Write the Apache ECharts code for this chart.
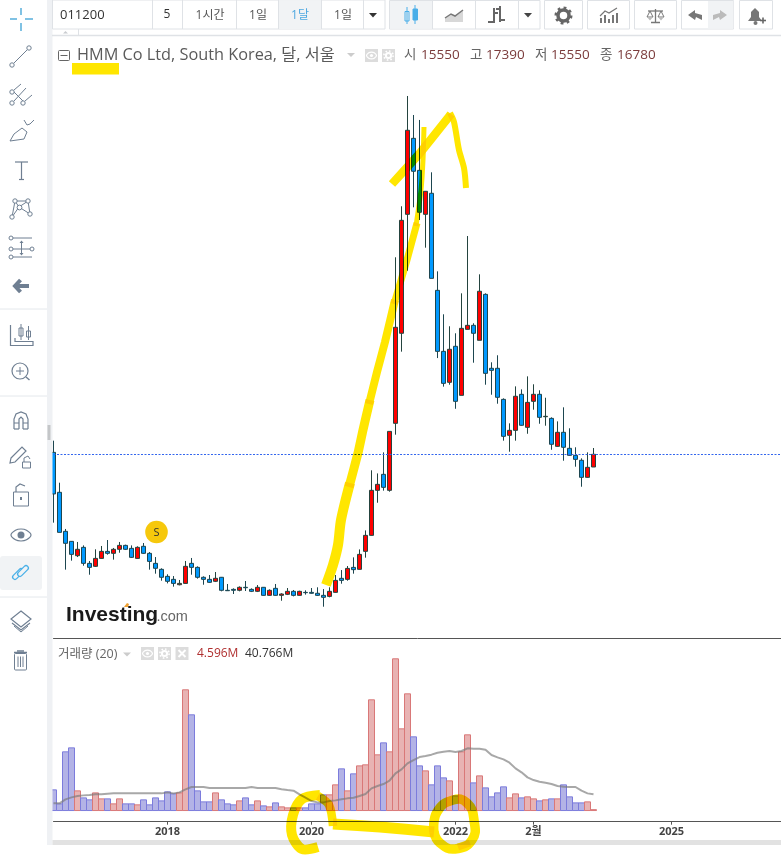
<!DOCTYPE html>
<html><head><meta charset="utf-8">
<style>html,body{margin:0;padding:0;background:#fff}#c{width:781px;height:859px}</style>
<script src="https://cdn.jsdelivr.net/npm/echarts@6/dist/echarts.min.js"></script>
</head><body><div id="c"></div>
<script>
const startYear = 2016, startMonth = 6, monthCount = 123;
const tickLabels = {'2018-01':'2018','2020-01':'2020','2022-01':'2022','2023-02':'2월','2025-01':'2025'};
const opens = [16970,13100,9320,8350,6960,7770,6220,5930,6700,7380,
7190,7580,7960,7670,6700,7870,7190,6220,5640,4960,
4670,4150,4280,6220,5830,4870,4670,4480,4870,3610,
3700,3610,3900,3700,3510,3900,3120,3800,3120,3220,
3510,3120,3410,3410,3320,3120,3020,3410,4770,4670,
5830,5640,7380,8930,13290,14840,13290,19780,28500,40020,
47380,44280,40020,42060,32660,26750,23750,27240,22490,28880,
29270,27820,32270,25110,25110,22100,18620,19100,22590,19390,
21910,22590,20420,20260,17550,18910,17360,16680,16200,14550,15550];
const closes = [12940,9220,8160,7090,7580,6220,5830,6700,7380,7190,
7580,7960,7580,6800,7770,7190,6410,5740,4870,4480,
4280,4280,5930,5830,4870,4670,4380,4770,3610,3570,
3610,3900,3860,3510,3900,3120,3610,3120,3250,3510,
3120,3510,3380,3320,3120,2930,3510,4570,4570,5730,
5610,7090,8930,13290,13870,13580,19000,29080,39440,48160,
44190,40220,42250,33820,26750,23650,26950,21910,28980,29270,
28500,32570,24620,24910,22300,18520,19100,22400,19590,21810,
22590,20360,20460,17750,18910,17460,16680,16290,14550,15520,16780];
const lows = [10160,9220,5610,6480,6830,5990,5120,5870,6670,7060,
6580,7250,7510,6740,6670,7130,5610,5220,4540,4280,
3960,4090,4250,5120,4740,4150,4320,4410,3510,3570,
3250,3510,3540,3440,3440,3090,3090,3090,2600,3150,
3020,3090,3190,3280,3060,2020,2930,3380,4250,4540,
5220,5610,6770,8900,12090,13260,13160,18680,26720,34560,
40700,39470,36790,33820,26100,23330,23520,21190,22490,28880,
25650,27820,23520,22550,21680,18100,17030,18100,19550,18770,
21100,19740,19550,17220,17510,16160,16640,15580,13640,14510,15550];
const highs = [18100,14030,9550,8380,8290,7960,6450,7580,7900,8480,
7710,8290,8030,7960,7870,8190,7320,6830,5740,5160,
4990,4610,6450,6740,5930,4960,5090,5380,4900,4220,
3800,3990,4510,3800,4120,3930,3700,4220,3320,3830,
3640,3570,3610,3830,3900,3730,3900,5090,5570,5960,
6800,7570,9410,15230,14930,16970,19000,35860,40800,51480,
49640,49160,42280,44090,34500,30340,29180,28500,32370,37920,
29470,34210,32370,25690,26370,22200,19780,23360,23070,24330,
23560,22980,22260,20360,19970,21330,19300,17460,16390,16970,17390];
const volumes = [52.9,18.7,145.6,155.3,50.4,33.3,28.5,45.5,30.9,30.9,
18.7,30.9,18.7,18.7,16.3,28.5,16.3,33.3,26.0,48.0,
43.1,45.5,296.9,235.9,50.4,23.6,23.6,45.5,28.5,18.7,
16.3,26.0,33.3,16.3,26.0,13.8,11.4,21.1,11.4,8.9,
8.9,8.9,8.9,18.7,18.7,40.7,40.7,65.1,104.1,50.4,
91.9,111.4,113.9,272.5,138.3,167.5,145.6,372.5,201.7,287.1,
182.2,111.4,99.2,65.1,111.4,82.1,74.8,38.2,145.6,187.1,
69.9,87.0,57.7,35.8,45.5,60.2,33.3,43.1,33.3,35.8,
30.9,26.0,28.5,30.9,30.9,65.1,35.8,21.1,21.1,23.6,4.596];
const volumeMA = [18.7,18.7,28.5,33.3,36.6,38.2,39,40.7,40.7,42.3,
43.1,43.1,43.1,43.1,43.1,43.1,43.1,43.1,43.1,45.5,
43.1,45.5,52.9,58.6,58.6,58.6,56,56,56,56,
56,56,56,58.6,56,56,56,56,52.9,51.2,
49.6,40.7,32.5,24.4,21.1,21.1,24.4,26,28.5,30.9,
32.5,36.6,41.5,55.3,61,65.9,74,91.9,101.7,116.3,
124.4,131.7,134.2,137.5,142.3,144.7,146.4,143.9,146.4,152.9,
152.1,152.1,149.6,136.6,130.9,126,117.9,104.1,94.4,82.1,
75.6,71.6,69.2,65.9,61,59.4,58.6,58.6,49.6,43.1,40.766];
const lastPrice = 16780;

const categories = [];
for (let i = 0; i < monthCount; i++) {
  const m = startMonth - 1 + i;
  categories.push((startYear + Math.floor(m / 12)) + '-' + String(m % 12 + 1).padStart(2, '0'));
}
const candleData = opens.map((o, i) => [o, closes[i], lows[i], highs[i]]);
const volumeData = volumes.map((v, i) => {
  const up = closes[i] >= opens[i];
  return {value: v, itemStyle: {color: up ? '#e8b3b3' : '#b3b3e6', borderColor: up ? '#d97878' : '#7c7cdc'}};
});

// page furniture drawn as graphic elements
const SLATE = '#6f7f92', KR = "'Open Sans','Noto Sans CJK KR',sans-serif", G = [];
const ln = (pts, color, w, extra) => G.push({type:'polyline', z:50, shape:Object.assign({points:pts}, extra&&extra.shape), style:Object.assign({stroke:color, fill:null, lineWidth:w}, extra&&extra.style)});
const cir = (x, y, r, stroke, fill, w) => G.push({type:'circle', z:50, shape:{cx:x, cy:y, r}, style:{stroke:stroke||null, fill:fill||null, lineWidth:w||1}});
const box = (x, y, w, h, fill, stroke, r) => G.push({type:'rect', z:49, shape:{x, y, width:w, height:h, r:r||0}, style:{fill:fill||null, stroke:stroke||null, lineWidth:1}});
const poly = (pts, fill, stroke, w, smooth) => G.push({type:'polygon', z:50, shape:{points:pts, smooth:smooth||0}, style:{fill:fill||null, stroke:stroke||null, lineWidth:w||1}});
const txt = (s, x, y, font, fill, align) => G.push({type:'text', z:51, style:{text:s, x, y, font, fill, align:align||'left', verticalAlign:'middle'}});
const eye = (cx, cy, rx, ry, stroke, w) => poly([[cx-rx,cy],[cx-rx*.55,cy-ry*.8],[cx,cy-ry],[cx+rx*.55,cy-ry*.8],[cx+rx,cy],[cx+rx*.55,cy+ry*.8],[cx,cy+ry],[cx-rx*.55,cy+ry*.8]], null, stroke, w, 0.4);

// side column
box(47, 0, 5.5, 845, '#eff1f4');
box(47.5, 425, 3, 15, '#c4c6c8');
// toolbar frame
box(52.5, 0, 332.5, 29, '#fff', '#dfe2e6');
box(278, 0.5, 43, 28.5, '#f1f3f5');
[152,182,236,278,321,363].forEach(x => ln([[x+.5,0],[x+.5,29]], '#dfe2e6', 1));
box(389.5, 0.5, 150.5, 28.5, '#fff', '#dfe2e6');
box(390, 1, 42.5, 27.5, '#f1f3f5');
[432.5,475.5,518.5].forEach(x => ln([[x,0],[x,29]], '#dfe2e6', 1));
box(544.5, 0.5, 38, 28.5, '#fff', '#dfe2e6');
box(587.5, 0.5, 42, 28.5, '#fff', '#dfe2e6');
box(634.5, 0.5, 42, 28.5, '#fff', '#dfe2e6');
box(681.5, 0.5, 52, 28.5, '#fff', '#dfe2e6');
box(708, 1, 25.5, 27.5, '#f1f3f5');
box(739.5, 0.5, 33, 28.5, '#fff', '#dfe2e6');
ln([[52,35.5],[781,35.5]], '#dfe2e6', 1.5);
ln([[78.5,29],[78.5,35]], '#dfe2e6', 1);
poly([[63,33.5],[68,33.5],[65.5,31]], '#c9ccd0');
txt('011200', 60, 15, "500 13px 'Open Sans',sans-serif", '#333');
txt('5', 167, 15, "12px 'Open Sans',sans-serif", '#333', 'center');
txt('1시간', 210, 15.5, "12px "+KR, '#555', 'center');
txt('1일', 258, 15.5, "12px "+KR, '#555', 'center');
txt('1달', 300, 15.5, "12px "+KR, '#4fa8e0', 'center');
txt('1일', 343, 15.5, "12px "+KR, '#555', 'center');
poly([[369,13],[377,13],[373,17.5]], '#333');
// chart-type icons
ln([[407,7],[407,24]], '#4aaee8', 1);
box(405, 11.5, 4, 9.5, '#f1f3f5', '#4aaee8');
ln([[415,5],[415,24]], '#4aaee8', 1);
box(413, 9, 4.5, 11, '#4aaee8', '#4aaee8');
poly([[445,22],[445,18],[451,14],[455,16],[463,10],[463,22]], '#d8d8d8');
ln([[445,18],[451,14],[455,16],[463,10]], '#777', 1.5);
ln([[494,8],[494,23]], '#666', 2);ln([[488,22],[494,22]], '#666', 2);ln([[494,13],[498,13]], '#666', 2);
ln([[500,6],[500,22]], '#666', 2);ln([[500,20],[505,20]], '#666', 2);ln([[496,9],[500,9]], '#666', 2);
poly([[524,13],[532,13],[528,17.5]], '#444');
cir(563.5, 15.5, 5.5, '#666', null, 3.5);
G.push({type:'circle', z:50, shape:{cx:563.5, cy:15.5, r:7.8}, style:{stroke:'#666', fill:null, lineWidth:2.4, lineDash:[2.8,3.3]}});
[601,605,609,613,617].forEach((x,i)=>ln([[x,23],[x,[18,15,19,15,13][i]]], '#777', 2));
ln([[600,16],[605,11],[609,13],[617,8]], '#777', 1.2);
ln([[655.5,9],[655.5,22]], '#777', 1.3);ln([[648,11],[663,11]], '#777', 1.3);ln([[651,22.5],[660,22.5]], '#777', 1.5);
poly([[647,17],[653,17],[650,11]], null, '#777', 1);poly([[658,17],[664,17],[661,11]], null, '#777', 1);
poly([[647,17],[653,17],[650,20.5]], '#bbb');poly([[658,17],[664,17],[661,20.5]], '#bbb');
poly([[688,15],[695,10],[695,13],[702,15],[702,20],[696,17],[695,20]], '#777');
poly([[727,15],[720,10],[720,13],[713,15],[713,20],[719,17],[720,20]], '#bbb');
poly([[748,21],[751,17],[751,12],[755,8],[759,12],[759,17],[762,21]], '#777');
cir(755.5, 23, 2, null, '#777');
ln([[760,20.5],[766,20.5]], '#666', 1.6);ln([[763,17.5],[763,23.5]], '#666', 1.6);

// left tools
ln([[10,19],[17,19]], '#4aa8d8', 1.4);ln([[25,19],[33,19]], '#4aa8d8', 1.4);
ln([[21,8],[21,15]], '#4aa8d8', 1.4);ln([[21,23],[21,31]], '#4aa8d8', 1.4);
ln([[13.5,63.5],[27.5,49.5]], SLATE, 1);cir(12,65,2.2,SLATE,'#fff');cir(29,48,2.2,SLATE,'#fff');
ln([[14,90],[21,84]],SLATE,1);ln([[14,92],[23,101]],SLATE,1);ln([[14,101],[26,88]],SLATE,1);ln([[25,101],[32,95]],SLATE,1);
cir(12,92,2.2,SLATE,'#fff');cir(12,103,2.2,SLATE,'#fff');cir(23,103,2.2,SLATE,'#fff');
poly([[10,141],[14,134],[22,128],[27,132],[24,139]],null,SLATE,1);
ln([[24,120],[27,125],[30,124],[34,120]],SLATE,1);
ln([[15,162],[28,162]],SLATE,1.2);ln([[21.5,162],[21.5,179]],SLATE,1.2);ln([[19,179.5],[24,179.5]],SLATE,1.2);
[[15,201,12,217],[15,201,19,207],[28,201,19,207],[28,201,30,214],[19,207,30,214],[19,207,12,217],[15,201,28,201]].forEach(a=>ln([[a[0],a[1]],[a[2],a[3]]],SLATE,1));
cir(15,201,2.2,SLATE,'#fff');cir(28,201,2.2,SLATE,'#fff');cir(19.5,207.5,2.4,SLATE,'#fff');cir(12,217,2.2,SLATE,'#fff');cir(30,214,2.2,SLATE,'#fff');
ln([[13,238],[32,238]],SLATE,1);ln([[13,249],[30,249]],SLATE,1);ln([[13,257],[32,257]],SLATE,1);ln([[21.5,241],[21.5,255]],SLATE,1);
poly([[19.5,243],[23.5,243],[21.5,240.5]],SLATE);poly([[19.5,253],[23.5,253],[21.5,255.5]],SLATE);
[[11,238],[11,249],[32,249],[11,257]].forEach(p=>cir(p[0],p[1],2,SLATE,'#fff'));
ln([[29,286],[16,286]],SLATE,4);ln([[20.5,280],[15,286],[20.5,292]],SLATE,4);
[309,396,597].forEach(y=>ln([[0,y],[47,y]],'#e4e8ec',1));
ln([[10.5,325],[10.5,345.5],[33,345.5],[33,341.5],[15,341.5],[15,338]],SLATE,1.2);
ln([[21,324],[21,340]],SLATE,1);box(19,328,4,8,'#fff',SLATE);ln([[28.5,326],[28.5,340]],SLATE,1);box(26.5,331,4,6,'#fff',SLATE);
cir(20,371,8,SLATE,null,1.2);ln([[16,371],[24,371]],SLATE,1);ln([[20,367],[20,375]],SLATE,1);ln([[26,377],[29.5,380]],SLATE,1.4);
ln([[14,429],[14,419],[16,414],[21,412],[26,414],[28,419],[28,429]],SLATE,1.2);ln([[19,429],[19,419],[21,417],[23,419],[23,429]],SLATE,1.2);
ln([[14,423],[19,423]],SLATE,1);ln([[23,423],[28,423]],SLATE,1);ln([[14,429],[19,429]],SLATE,1.2);ln([[23,429],[28,429]],SLATE,1.2);
poly([[11,458],[22,447],[26,451],[15,462],[10,463]],null,SLATE,1.2);
box(22.5,462,8,6,'#fff',SLATE);ln([[24,462],[24,458],[28,456],[30,459]],SLATE,1);
box(13.5,492,15,14,'#fff',SLATE);ln([[16,492],[16,487],[20,484],[25,486]],SLATE,1.2);ln([[21,497],[21,500]],SLATE,2);
eye(21,535,10,6,SLATE,1.2);cir(21,535,3.5,null,SLATE);
box(0,556,42,34,'#f1f3f5',null,3);
const link=(x1,y1,x2,y2)=>{ln([[x1,y1],[x2,y2]],'#4ab0e8',6,{style:{lineCap:'round'}});ln([[x1,y1],[x2,y2]],'#f1f3f5',3.4,{style:{lineCap:'round'}});};
link(15,577,21,571);link(20,574,26,568);
poly([[21,611],[31,619],[21,627],[11,619]],null,SLATE,1.2);
ln([[12,623],[21,630],[30,623]],SLATE,1.1);ln([[14,626],[21,632],[28,626]],SLATE,1);
ln([[14,652.5],[27,652.5]],SLATE,1.5);ln([[17,651],[24,651]],SLATE,1.5);box(14.5,653.5,12,16.5,'#fff',SLATE,1);
[18,20.5,23].forEach(x=>ln([[x,656.5],[x,667]],SLATE,1));

// legend row
box(58.5,50.5,11,10,'#fff','#666',1);ln([[60.5,55.5],[67.5,55.5]],'#666',1);
txt('HMM Co Ltd, South Korea, 달, 서울', 77, 55, "16.3px "+KR, '#5a5a5a');
poly([[347,53],[355,53],[351,57]],'#ccc');
const squareIcon = (x,y,s,kind) => { box(x,y,s,s,'#dcdcdc');
  if(kind==='eye'){eye(x+s/2,y+s/2,5,3.4,'#fff',1.2);cir(x+s/2,y+s/2,1.6,null,'#fff');}
  if(kind==='gear'){cir(x+s/2,y+s/2,2.6,'#fff',null,2);G.push({type:'circle',z:50,shape:{cx:x+s/2,cy:y+s/2,r:4.6},style:{stroke:'#fff',fill:null,lineWidth:1.6,lineDash:[1.6,2]}});}
  if(kind==='x'){ln([[x+3,y+3],[x+s-3,y+s-3]],'#fff',2);ln([[x+s-3,y+3],[x+3,y+s-3]],'#fff',2);} };
squareIcon(365,49,13,'eye');squareIcon(382,49,13,'gear');
const OF = "13.5px "+KR;
txt('시',404,55,OF,'#666');txt('15550',421,55,OF,'#7b3b3b');
txt('고',470,55,OF,'#666');txt('17390',486,55,OF,'#7b3b3b');
txt('저',535,55,OF,'#666');txt('15550',551,55,OF,'#7b3b3b');
txt('종',600,55,OF,'#666');txt('16780',617,55,OF,'#7b3b3b');

// split marker and watermark
cir(156.5,532,11.3,null,'#f6c80c');
txt('S',156.5,532.5,"11px 'Open Sans',sans-serif",'#333','center');
txt('Investing',66,615,"bold 21px 'Liberation Sans',sans-serif",'#1a1a1a');
txt('.com',156.5,616.5,"14.5px 'Liberation Sans',sans-serif",'#666');
poly([[124,607],[127,603],[129,604],[128,607]],'#f0a030');

// volume legend
txt('거래량 (20)',58,654,"12.5px "+KR,'#666');
poly([[123,652.5],[131,652.5],[127,656.5]],'#ccc');
squareIcon(141,647,13,'eye');squareIcon(158,647,13,'gear');squareIcon(175.5,647,13,'x');
txt('4.596M',197,654,"12px "+KR,'#b03030');
txt('40.766M',245,654,"12px "+KR,'#333');
// scroll strip
box(52.5,840,728.5,5,'#e2e2e2');

// highlighter strokes
const hl = (pts,w,smooth) => G.push({type:'polyline',z:90,shape:{points:pts,smooth:smooth==null?0.3:smooth},style:{stroke:'#ffe600',fill:null,lineWidth:w,lineCap:'butt',lineJoin:'round',blend:'multiply'}});
G.push({type:'rect',z:90,shape:{x:72,y:63,width:47,height:11.5},style:{fill:'#ffe600',blend:'multiply'}});
hl([[326,585],[333,565],[338,545],[341,520],[350,483]],10);
hl([[349,487],[358,453],[363,430],[370,400]],9,0.15);
hl([[369,404],[377,372],[385,342],[395,300]],8,0.1);
hl([[394,304],[407,260],[417,223]],7,0.1);
hl([[416,226],[421,190],[423,160],[424,127]],5,0.2);
hl([[392,184],[420,153],[448,118],[451,114]],8.5,0.1);
hl([[450,113],[454,122],[459,150],[464,168],[466,188]],6);
hl([[320,795],[302,799],[293,815],[292,835],[302,849],[318,847]],10);
hl([[318,796],[329,805],[333,826]],8.5);
hl([[333,824],[380,827],[434,832]],11,0.2);
hl([[434,832],[437,812],[453,800],[467,803],[474,820],[472,840],[455,849],[440,843],[434,832]],9.5,0.5);
hl([[470,843],[458,847]],7,0);

const chart = echarts.init(document.getElementById('c'), null, {renderer:'canvas'});
chart.setOption({
  animation:false,
  backgroundColor:'#fff',
  graphic:{elements:G},
  grid:[{left:53.5,width:732,top:39,height:598.9,outerBoundsMode:'none'},{left:53.5,width:732,top:638,height:183.7,outerBoundsMode:'none'}],
  xAxis:[
    {type:'category',gridIndex:0,data:categories,boundaryGap:false,axisLine:{onZero:false,lineStyle:{color:'#555',width:1}},axisTick:{show:false},axisLabel:{show:false},splitLine:{show:false}},
    {type:'category',gridIndex:1,data:categories,boundaryGap:false,axisLine:{onZero:false,lineStyle:{color:'#555',width:1}},
     axisTick:{length:3,lineStyle:{color:'#555'},interval:(i,v)=>v in tickLabels},
     axisLabel:{margin:5,color:'#444',fontSize:11,fontWeight:'bold',fontFamily:KR,interval:(i,v)=>v in tickLabels,formatter:v=>tickLabels[v]||''},splitLine:{show:false}}
  ],
  yAxis:[
    {type:'value',gridIndex:0,min:-1000,max:57000,show:false,splitLine:{show:false}},
    {type:'value',gridIndex:1,min:-26,max:422,show:false,splitLine:{show:false}}
  ],
  series:[
    {type:'candlestick',xAxisIndex:0,yAxisIndex:0,data:candleData,barWidth:4,
     itemStyle:{color:'#ff0000',color0:'#0099ff',borderColor:'#24443f',borderColor0:'#1d4650',borderColorDoji:'#4a2a2a',borderWidth:1},
     markLine:{silent:true,symbol:'none',animation:false,label:{show:false},lineStyle:{color:'#3366ee',type:[2,1.5],width:1},data:[{yAxis:lastPrice}]}},
    {type:'bar',xAxisIndex:1,yAxisIndex:1,data:volumeData,barWidth:7,itemStyle:{borderWidth:1}},
    {type:'line',xAxisIndex:1,yAxisIndex:1,data:volumeMA,showSymbol:false,symbol:'none',z:5,lineStyle:{color:'#7a7a7a',width:2,opacity:.65},itemStyle:{color:'#7a7a7a'}}
  ]
});
</script></body></html>
